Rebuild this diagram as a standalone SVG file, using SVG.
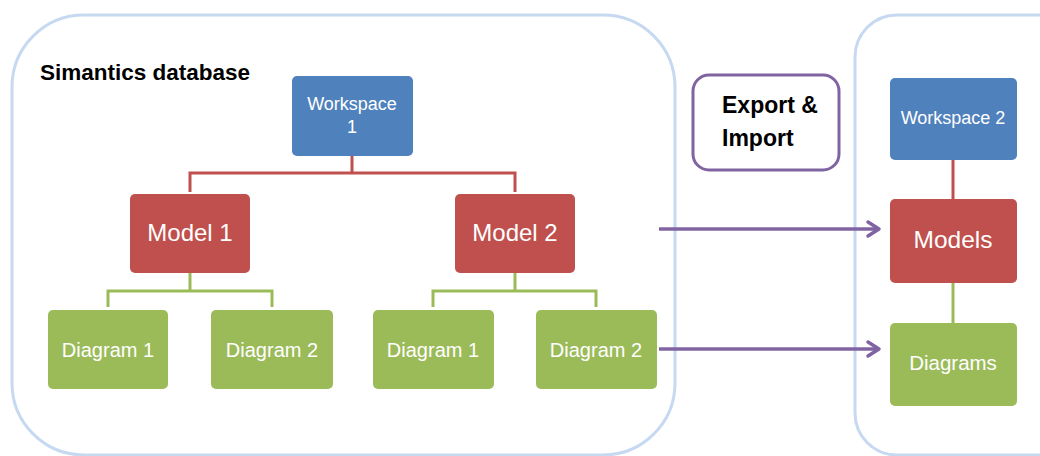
<svg xmlns="http://www.w3.org/2000/svg" width="1040" height="456" viewBox="0 0 1040 456">
<style>
.cont{fill:none;stroke:#c6d9f1;stroke-width:3}
.blue{fill:#4f81bd}
.red{fill:#c0504d}
.green{fill:#9bbb59}
.wt{font-family:"Liberation Sans",Arial,sans-serif;fill:#ffffff;text-anchor:middle}
.bt{font-family:"Liberation Sans",Arial,sans-serif;fill:#000000;font-weight:bold}
.rl{fill:none;stroke:#c0504d;stroke-width:3}
.gl{fill:none;stroke:#9bbb59;stroke-width:3}
.arr{fill:none;stroke:#8064a2;stroke-width:3.5;marker-end:url(#chev)}
</style>
<defs>
<marker id="chev" markerUnits="userSpaceOnUse" markerWidth="20" markerHeight="20" refX="15" refY="10" orient="auto">
<polyline points="4,3 15,10 4,17" fill="none" stroke="#8064a2" stroke-width="3.5" stroke-linecap="round" stroke-linejoin="round"/>
</marker>
</defs>
<rect width="1040" height="456" fill="#ffffff"/>
<g id="containers">
<rect id="simantics-db" class="cont" x="12" y="15" width="663" height="440" rx="72"/>
<rect id="target-db" class="cont" x="855" y="15" width="230" height="440" rx="42"/>
</g>
<text id="db-label" class="bt" x="40" y="80" font-size="22.5">Simantics database</text>
<g id="connectors">
<path class="rl" d="M352,156 V173 M190,192 V173 H515 V192"/>
<path class="gl" d="M190,273 V291 M108,307 V291 H272 V307"/>
<path class="gl" d="M515,273 V291 M433,307 V291 H596 V307"/>
<path class="rl" d="M953,160 V199"/>
<path class="gl" d="M953,283 V323"/>
<path class="arr" d="M659,229 H879"/>
<path class="arr" d="M659,349 H879"/>
</g>
<g id="workspace1">
<rect class="blue" x="292" y="76" width="121" height="80" rx="5"/>
<text class="wt" x="352" y="110" font-size="18">Workspace</text>
<text class="wt" x="352" y="133" font-size="18">1</text>
</g>
<g id="model1">
<rect class="red" x="130" y="194" width="120" height="79" rx="5"/>
<text class="wt" x="190" y="241" font-size="24">Model 1</text>
</g>
<g id="model2">
<rect class="red" x="455" y="194" width="120" height="79" rx="5"/>
<text class="wt" x="515" y="241" font-size="24">Model 2</text>
</g>
<g id="m1-diagram1">
<rect class="green" x="48" y="310" width="120" height="79" rx="5"/>
<text class="wt" x="108" y="357" font-size="20">Diagram 1</text>
</g>
<g id="m1-diagram2">
<rect class="green" x="211" y="310" width="122" height="79" rx="5"/>
<text class="wt" x="272" y="357" font-size="20">Diagram 2</text>
</g>
<g id="m2-diagram1">
<rect class="green" x="373" y="310" width="121" height="79" rx="5"/>
<text class="wt" x="433" y="357" font-size="20">Diagram 1</text>
</g>
<g id="m2-diagram2">
<rect class="green" x="536" y="310" width="121" height="79" rx="5"/>
<text class="wt" x="596" y="357" font-size="20">Diagram 2</text>
</g>
<g id="export-import">
<rect x="693" y="75" width="146" height="95" rx="16" fill="#ffffff" stroke="#8064a2" stroke-width="3"/>
<text class="bt" x="722" y="113" font-size="23">Export &amp;</text>
<text class="bt" x="722" y="146" font-size="23">Import</text>
</g>
<g id="workspace2">
<rect class="blue" x="890" y="78" width="127" height="82" rx="5"/>
<text class="wt" x="953" y="124" font-size="18">Workspace 2</text>
</g>
<g id="models">
<rect class="red" x="890" y="199" width="127" height="84" rx="5"/>
<text class="wt" x="953" y="248" font-size="24.5">Models</text>
</g>
<g id="diagrams">
<rect class="green" x="890" y="323" width="127" height="83" rx="5"/>
<text class="wt" x="953" y="370" font-size="20.5">Diagrams</text>
</g>
</svg>
